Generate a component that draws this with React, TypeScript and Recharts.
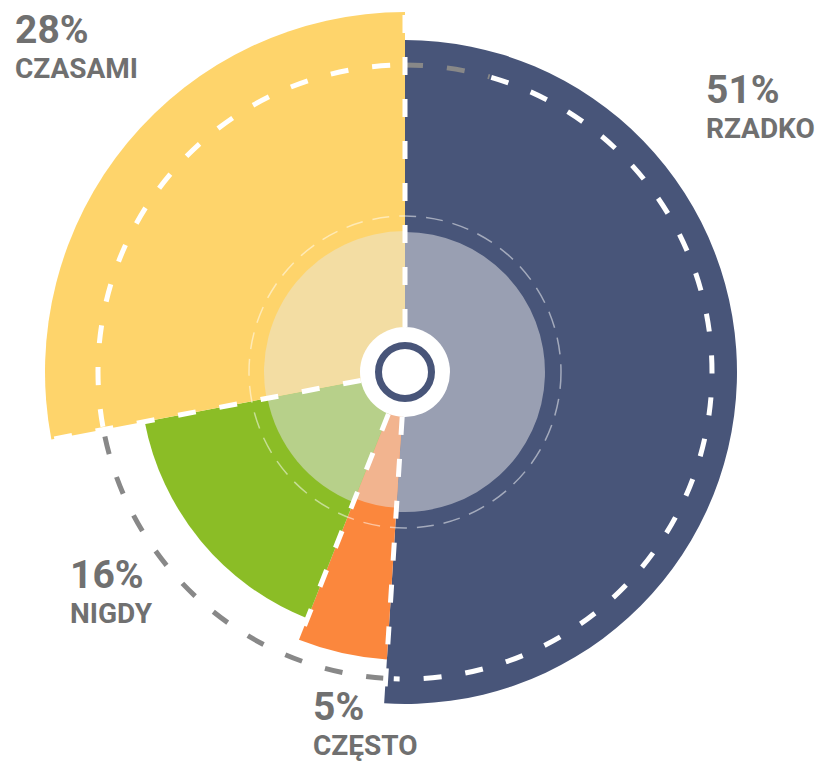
import React from 'react';
import { PieChart, Pie, Cell } from 'recharts';

// ---- data ----
const categories = ['RZADKO', 'CZĘSTO', 'NIGDY', 'CZASAMI'];
const shares = [51, 5, 16, 28];
const percentLabels = ['51%', '5%', '16%', '28%'];

const data = categories.map((name, i) => ({ name, value: shares[i] }));

// ---- layout / style ----
const W = 823;
const H = 763;
const CX = 405;
const CY = 372;
const OUTER_R = [332, 288, 265, 360];
const INNER_R = [140, 136, 140, 141];
const COLORS = ['#485579', '#FB873D', '#8BBD26', '#FED46B'];
const LIGHT = ['#999FB2', '#F2B48F', '#B7D08A', '#F3DDA3'];
const LABEL_POS = [
  { x: 706, y: 103 },
  { x: 313, y: 720 },
  { x: 70, y: 588 },
  { x: 15, y: 43 },
];
const LABEL_COLOR = '#707070';
const DASH_R = 307;
const DASH = [18, 24];
const THIN_R = 156;

const total = shares.reduce((a, b) => a + b, 0);
const bounds: number[] = [0];
shares.forEach((v) => bounds.push(bounds[bounds.length - 1] + (v / total) * 360));

const pt = (r: number, t: number) => {
  const a = (t * Math.PI) / 180;
  return { x: CX + r * Math.sin(a), y: CY - r * Math.cos(a) };
};

const arcPath = (r: number, t0: number, t1: number) => {
  const p0 = pt(r, t0);
  const p1 = pt(r, t1);
  const large = t1 - t0 > 180 ? 1 : 0;
  return `M ${p0.x} ${p0.y} A ${r} ${r} 0 ${large} 1 ${p1.x} ${p1.y}`;
};

const period = DASH[0] + DASH[1];
const offsetFor = (r: number, t0: number) => {
  const len = (r * t0 * Math.PI) / 180;
  return -(len % period);
};

const Overlay = () => {
  const whiteArcs: [number, number][] = [];
  const grayArcs: [number, number][] = [];
  grayArcs.push([bounds[0], 16]);
  whiteArcs.push([16, bounds[1] - 1.5]);
  grayArcs.push([bounds[1] - 1.5, bounds[3]]);
  whiteArcs.push([bounds[3], bounds[4]]);

  const radial = bounds.slice(0, 4).map((b, k) => {
    const prev = (k + 3) % 4;
    const len = Math.max(OUTER_R[k], OUTER_R[prev]);
    return { b, len };
  });

  return (
    <svg width={W} height={H} style={{ position: 'absolute', left: 0, top: 0, pointerEvents: 'none' }}>
      <circle cx={CX} cy={CY} r={THIN_R} fill="none" stroke="rgba(255,255,255,0.5)" strokeWidth={1.5} strokeDasharray="17 10" />
      {grayArcs.map(([a, b], i) => (
        <path key={'g' + i} d={arcPath(DASH_R, a, b)} fill="none" stroke="#888888" strokeWidth={5}
          strokeDasharray={`${DASH[0]} ${DASH[1]}`} strokeDashoffset={offsetFor(DASH_R, a)} />
      ))}
      {whiteArcs.map(([a, b], i) => (
        <path key={'w' + i} d={arcPath(DASH_R, a, b)} fill="none" stroke="#ffffff" strokeWidth={5}
          strokeDasharray={`${DASH[0]} ${DASH[1]}`} strokeDashoffset={offsetFor(DASH_R, a)} />
      ))}
      {radial.map(({ b, len }, i) => {
        const p = pt(len, b);
        return (
          <line key={'r' + i} x1={CX} y1={CY} x2={p.x} y2={p.y} stroke="#ffffff" strokeWidth={5}
            strokeDasharray={`${DASH[0]} ${DASH[1]}`} strokeDashoffset={-3} />
        );
      })}
      <circle cx={CX} cy={CY} r={45} fill="#ffffff" />
      <circle cx={CX} cy={CY} r={26.5} fill="#ffffff" stroke={COLORS[0]} strokeWidth={7} />
    </svg>
  );
};

const renderLabel = (props: any) => {
  const i = props.index;
  const pos = LABEL_POS[i];
  return (
    <text key={'lbl' + i} x={pos.x} y={pos.y} fill={LABEL_COLOR} fontFamily="Roboto, 'Noto Sans', sans-serif" fontWeight={700}>
      <tspan x={pos.x} y={pos.y} fontSize={39}>{percentLabels[i]}</tspan>
      <tspan x={pos.x} y={pos.y + 35} fontSize={28}>{categories[i]}</tspan>
    </text>
  );
};

export default function App() {
  return (
    <div style={{ position: 'absolute', left: 0, top: 0, width: W, height: H, background: '#ffffff' }}>
      <PieChart width={W} height={H} margin={{ top: 0, right: 0, bottom: 0, left: 0 }}>
        {data.map((_, k) => (
          <Pie
            key={'outer' + k}
            data={data}
            dataKey="value"
            nameKey="name"
            cx={CX}
            cy={CY}
            startAngle={90}
            endAngle={-270}
            innerRadius={0}
            outerRadius={OUTER_R[k]}
            stroke="none"
            isAnimationActive={false}
            label={k === 0 ? renderLabel : false}
            labelLine={false}
          >
            {data.map((d, i) => (
              <Cell key={'c' + i} fill={i === k ? COLORS[i] : 'transparent'} />
            ))}
          </Pie>
        ))}
        {data.map((_, k) => (
          <Pie
            key={'inner' + k}
            data={data}
            dataKey="value"
            nameKey="name"
            cx={CX}
            cy={CY}
            startAngle={90}
            endAngle={-270}
            innerRadius={0}
            outerRadius={INNER_R[k]}
            stroke="none"
            isAnimationActive={false}
            label={false}
            labelLine={false}
          >
            {data.map((d, i) => (
              <Cell key={'l' + i} fill={i === k ? LIGHT[i] : 'transparent'} />
            ))}
          </Pie>
        ))}
      </PieChart>
      <Overlay />
    </div>
  );
}
